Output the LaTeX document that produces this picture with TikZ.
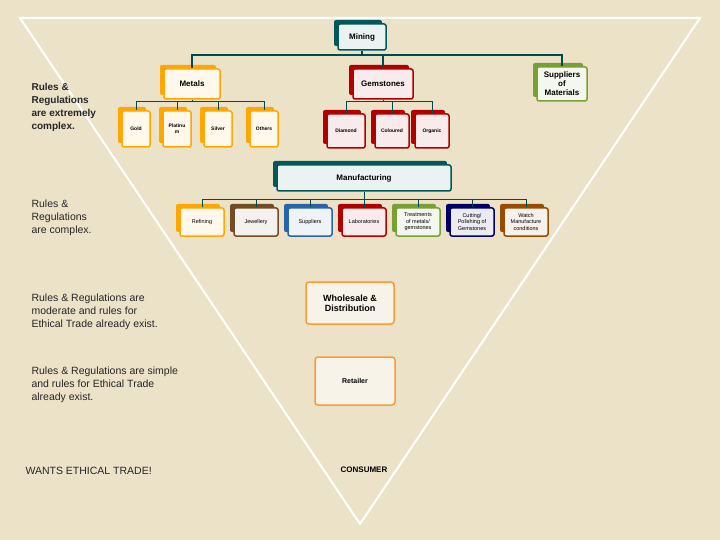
\documentclass[tikz,border=0pt]{standalone}
\usepackage{fontspec}
\setmainfont{Liberation Sans}
\begin{document}
\begin{tikzpicture}[x=1pt,y=-1pt,
  conn/.style={draw=teal!60!black,line width=1.2pt},
  lbl/.style={font=\bfseries\fontsize{8}{9}\selectfont,align=center,text=black},
  sm/.style={font=\fontsize{5.5}{6.5}\selectfont,align=center,text=black},
  rule/.style={font=\fontsize{10.5}{13}\selectfont,align=left,anchor=north west,text=black!85}]
\definecolor{bg}{RGB}{236,226,200}
\definecolor{grn}{RGB}{120,160,50}
\definecolor{blu}{RGB}{40,100,170}
\fill[bg] (0,0) rectangle (720,540);
\useasboundingbox (0,0) rectangle (720,540);
\draw[white,line width=2pt] (20,18) -- (700,18) -- (360,524) -- cycle;
\newcommand{\bx}[8]{%
  \fill[#6,rounded corners=2pt] (#2-#4/2-4,#3-#5/2-4) rectangle (#2+#4/2-4,#3+#5/2-4);
  \node[draw=#6,fill=#6!8,line width=1.5pt,rounded corners=2pt,minimum width=#4pt,minimum height=#5pt,inner sep=1pt,#8] (#1) at (#2,#3) {#7};}
\colorlet{yel}{orange!70!yellow}
\colorlet{red1}{red!70!black}
% Mining tree
\bx{mining}{362}{37}{48}{26}{teal!70!black}{Mining}{lbl}
\bx{metals}{192}{84}{56}{30}{yel}{Metals}{lbl}
\bx{gem}{383}{84}{60}{30}{red1}{Gemstones}{lbl}
\bx{supm}{562}{84}{50}{34}{grn}{Suppliers\\of\\Materials}{lbl}
\coordinate (ma) at (362,55);
\draw[conn] (mining.south) -- (ma);
\draw[conn] (metals.north) |- (supm.north |- ma) -- (supm.north);
\draw[conn] (gem.north) -- (gem.north |- ma);
\bx{gold}{136}{129}{28}{36}{yel}{Gold}{font=\bfseries\fontsize{5}{6}\selectfont}
\bx{plat}{177}{129}{28}{36}{yel}{Platinu\\m}{font=\bfseries\fontsize{5}{6}\selectfont,align=center}
\bx{silv}{218}{129}{28}{36}{yel}{Silver}{font=\bfseries\fontsize{5}{6}\selectfont}
\bx{oth}{264}{129}{28}{36}{yel}{Others}{font=\bfseries\fontsize{5}{6}\selectfont}
\coordinate (mb) at (192,102);
\draw[conn,line width=1pt] (metals.south) -- (mb);
\draw[conn,line width=1pt] (gold.north) |- (oth.north |- mb) -- (oth.north);
\draw[conn,line width=1pt] (plat.north) -- (plat.north |- mb);
\draw[conn,line width=1pt] (silv.north) -- (silv.north |- mb);
\bx{dia}{346}{131}{38}{34}{red1}{Diamond}{font=\bfseries\fontsize{5}{6}\selectfont}
\bx{col}{392}{131}{34}{34}{red1}{Coloured}{font=\bfseries\fontsize{5}{6}\selectfont}
\bx{org}{432}{131}{34}{34}{red1}{Organic}{font=\bfseries\fontsize{5}{6}\selectfont}
\coordinate (gb) at (383,102);
\draw[conn,line width=1pt] (gem.south) -- (gb);
\draw[conn,line width=1pt] (dia.north) |- (org.north |- gb) -- (org.north);
\draw[conn,line width=1pt] (col.north) -- (col.north |- gb);
% Manufacturing
\bx{man}{364}{178}{174}{26}{teal!70!black}{Manufacturing}{lbl}
\coordinate (mc) at (364,200);
\draw[conn,line width=1pt] (man.south) -- (mc);
\bx{ref}{202}{222}{44}{28}{yel}{Refining}{sm}
\bx{jew}{256}{222}{44}{28}{brown!60!black}{Jewellery}{sm}
\bx{sup}{310}{222}{44}{28}{blu}{Suppliers}{sm}
\bx{lab}{364}{222}{44}{28}{red1}{Laboratories}{sm}
\bx{tre}{418}{222}{44}{28}{grn}{Treatments\\of metals/\\gemstones}{sm}
\bx{cut}{472}{222}{44}{28}{blue!40!black}{Cutting/\\Polishing of\\Gemstones}{sm}
\bx{wat}{526}{222}{44}{28}{orange!60!black}{Watch\\Manufacture\\conditions}{sm}
\draw[conn,line width=1pt] (ref.north) |- (wat.north |- mc) -- (wat.north);
\foreach \n in {jew,sup,lab,tre,cut} \draw[conn,line width=1pt] (\n.north) -- (\n.north |- mc);
% lower
\node[draw=orange!80,fill=white!60!bg,line width=1.5pt,rounded corners=3pt,minimum width=88pt,minimum height=42pt,align=center,font=\bfseries\fontsize{9}{10}\selectfont] (who) at (350,303) {Wholesale \&\\Distribution};
\node[draw=orange!80,fill=white!60!bg,line width=1.5pt,rounded corners=3pt,minimum width=80pt,minimum height=48pt,font=\bfseries\fontsize{7}{8}\selectfont] (ret) at (355,381) {Retailer};
\node[font=\bfseries\fontsize{8}{9}\selectfont] (con) at (364,470) {CONSUMER};
% left texts
\node[rule,font=\bfseries\fontsize{10}{13}\selectfont] (r1) at (28,80) {Rules \&\\Regulations\\are extremely\\complex.};
\node[rule] (r2) at (28,196) {Rules \&\\Regulations\\are complex.};
\node[rule] (r3) at (28,290) {Rules \& Regulations are\\moderate and rules for\\Ethical Trade already exist.};
\node[rule] (r4) at (28,363) {Rules \& Regulations are simple\\and rules for Ethical Trade\\already exist.};
\node[rule] (r5) at (22,464) {WANTS ETHICAL TRADE!};
\end{tikzpicture}
\end{document}
